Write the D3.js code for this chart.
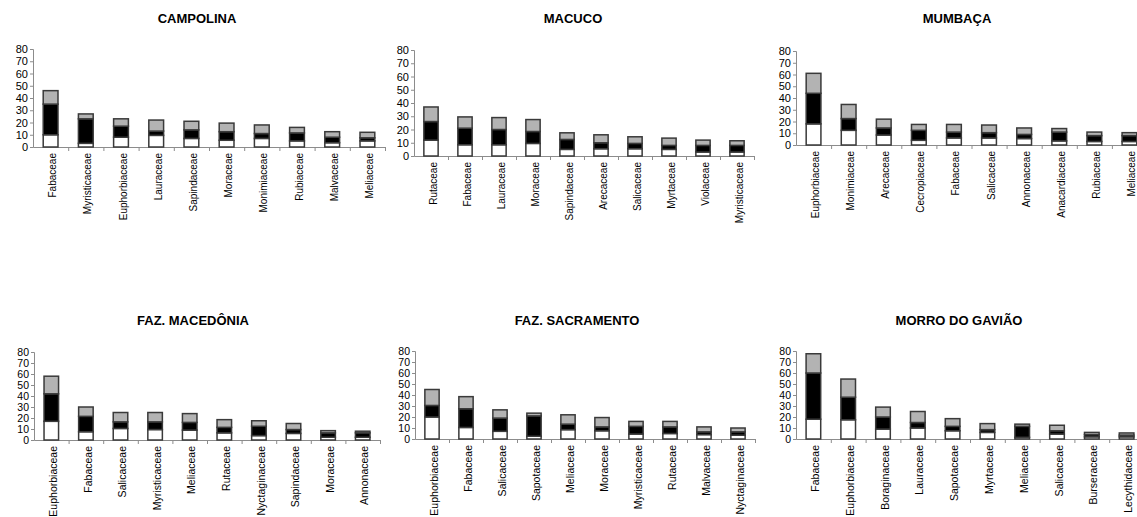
<!DOCTYPE html>
<html>
<head>
<meta charset="utf-8">
<script src="https://cdn.jsdelivr.net/npm/d3@7"></script>
<style>
  body { margin: 0; background: #fff; }
  svg { display: block; }
</style>
</head>
<body>
<svg id="chart" width="1137" height="517"></svg>
<script>
// ---- data -------------------------------------------------------------
const yTicks = [0, 10, 20, 30, 40, 50, 60, 70, 80];

const titles = ["CAMPOLINA", "MACUCO", "MUMBAÇA", "FAZ. MACEDÔNIA", "FAZ. SACRAMENTO", "MORRO DO GAVIÃO"];

const campolinaFamilies = ["Fabaceae", "Myristicaceae", "Euphorbiaceae", "Lauraceae", "Sapindaceae", "Moraceae", "Monimiaceae", "Rubiaceae", "Malvaceae", "Meliaceae"];
const campolinaBase   = [10, 3, 8, 9.5, 7, 5.5, 7, 5, 3.5, 5];
const campolinaMiddle = [25, 20, 9, 3.5, 7, 7, 4, 6.5, 4.5, 2.5];
const campolinaTop    = [11, 4, 6, 9, 7, 7, 7, 4.5, 4.5, 4.5];

const macucoFamilies = ["Rutaceae", "Fabaceae", "Lauraceae", "Moraceae", "Sapindaceae", "Arecaceae", "Salicaceae", "Myrtaceae", "Violaceae", "Myristicaceae"];
const macucoBase   = [12, 8.5, 8.5, 9.5, 5, 5.5, 5.5, 5, 3, 3];
const macucoMiddle = [14, 12.5, 11.5, 9, 7.5, 4.5, 4, 3, 5, 5];
const macucoTop    = [11, 8.5, 9, 9, 5, 6, 5, 5.5, 4, 3.5];

const mumbacaFamilies = ["Euphorbiaceae", "Monimiaceae", "Arecaceae", "Cecropiaceae", "Fabaceae", "Salicaceae", "Annonaceae", "Anacardiaceae", "Rubiaceae", "Meliaceae"];
const mumbacaBase   = [18, 12.5, 8.5, 4, 6, 6, 5.5, 3.5, 3, 3];
const mumbacaMiddle = [26, 10, 6, 8.5, 5, 4.5, 3.5, 7.5, 5, 5];
const mumbacaTop    = [17, 12, 7.5, 5, 6.5, 6.5, 5.5, 3, 3, 2.5];

const macedoniaFamilies = ["Euphorbiaceae", "Fabaceae", "Salicaceae", "Myristicaceae", "Meliaceae", "Rutaceae", "Nyctaginaceae", "Sapindaceae", "Moraceae", "Annonaceae"];
const macedoniaBase   = [17, 7.5, 10.5, 9.5, 9, 6.5, 4, 6, 2.5, 2.5];
const macedoniaMiddle = [25, 14, 6, 7, 7, 5, 8.5, 3.5, 4, 4];
const macedoniaTop    = [16, 8.5, 8.5, 8.5, 8, 7, 5, 5.5, 2, 1.5];

const sacramentoFamilies = ["Euphorbiaceae", "Fabaceae", "Salicaceae", "Sapotaceae", "Meliaceae", "Moraceae", "Myristicaceae", "Rutaceae", "Malvaceae", "Nyctaginaceae"];
const sacramentoBase   = [20, 10.5, 7, 2.5, 8.5, 7.5, 4.5, 5, 4, 3.5];
const sacramentoMiddle = [10.5, 17, 12, 18.5, 5, 3.5, 7, 6, 2.5, 3];
const sacramentoTop    = [14.5, 11, 7.5, 2.5, 8.5, 8.5, 4.5, 5, 4.5, 3.5];

const gaviaoFamilies = ["Fabaceae", "Euphorbiaceae", "Boraginaceae", "Lauraceae", "Sapotaceae", "Myrtaceae", "Meliaceae", "Salicaceae", "Burseraceae", "Lecythidaceae"];
const gaviaoBase   = [18, 17.5, 9, 10, 7.5, 6, 1.5, 4.5, 2, 2];
const gaviaoMiddle = [42, 20.5, 11, 5, 4, 2.5, 10, 3, 2, 1.5];
const gaviaoTop    = [17.5, 16.5, 9, 10, 7, 5.5, 2, 5, 2, 2];

// ---- panel frames (plot area in page pixels) ---------------------------
const frames = [
  { left: 33,  right: 385,  top: 49,  bottom: 147, titleX: 197, titleY: 23,  tickFont: 11, catFont: 10 },
  { left: 414, right: 754,  top: 50,  bottom: 156, titleX: 573, titleY: 23,  tickFont: 11, catFont: 10 },
  { left: 796, right: 1147, top: 51,  bottom: 145, titleX: 957, titleY: 23,  tickFont: 11, catFont: 10 },
  { left: 34,  right: 380,  top: 352, bottom: 440, titleX: 193, titleY: 325, tickFont: 10.5, catFont: 10.5 },
  { left: 415, right: 755,  top: 351, bottom: 439, titleX: 577, titleY: 325, tickFont: 10.5, catFont: 10.5 },
  { left: 796, right: 1144, top: 351, bottom: 439, titleX: 959, titleY: 325, tickFont: 10.5, catFont: 10.5 }
];

const panels = [
  [campolinaFamilies, campolinaBase, campolinaMiddle, campolinaTop],
  [macucoFamilies, macucoBase, macucoMiddle, macucoTop],
  [mumbacaFamilies, mumbacaBase, mumbacaMiddle, mumbacaTop],
  [macedoniaFamilies, macedoniaBase, macedoniaMiddle, macedoniaTop],
  [sacramentoFamilies, sacramentoBase, sacramentoMiddle, sacramentoTop],
  [gaviaoFamilies, gaviaoBase, gaviaoMiddle, gaviaoTop]
];

const segmentKeys = ["base", "middle", "top"];
const segmentFill = { base: "#ffffff", middle: "#000000", top: "#b3b3b3" };
const FONT = "'Liberation Sans', Arial, sans-serif";

const svg = d3.select("#chart");

panels.forEach(([families, base, middle, top], i) => {
  const f = frames[i];
  const g = svg.append("g");

  const rows = families.map((name, k) => ({ name, base: base[k], middle: middle[k], top: top[k] }));
  const series = d3.stack().keys(segmentKeys)(rows);

  const x = d3.scaleBand()
    .domain(families)
    .range([f.left, f.right])
    .paddingInner(0.58)
    .paddingOuter(0.29);

  const y = d3.scaleLinear().domain([0, 80]).range([f.bottom, f.top]);

  // title
  g.append("text")
    .attr("x", f.titleX)
    .attr("y", f.titleY)
    .attr("text-anchor", "middle")
    .attr("font-family", FONT)
    .attr("font-weight", "bold")
    .attr("font-size", 13)
    .attr("fill", "#000")
    .text(titles[i]);

  // y axis
  const yAxis = g.append("g")
    .attr("transform", `translate(${f.left},0)`)
    .call(d3.axisLeft(y).tickValues(yTicks).tickSize(3).tickPadding(2));
  yAxis.select(".domain").attr("stroke", "#8c8c8c");
  yAxis.selectAll(".tick line").attr("stroke", "#8c8c8c");
  yAxis.selectAll(".tick text")
    .attr("font-family", FONT)
    .attr("font-size", f.tickFont)
    .attr("fill", "#000");

  // x axis: baseline with ticks at category boundaries
  const idx = d3.scaleLinear().domain([0, families.length]).range([f.left, f.right]);
  const xAxis = g.append("g")
    .attr("transform", `translate(0,${f.bottom})`)
    .call(d3.axisBottom(idx).tickValues(d3.range(1, families.length + 1)).tickSize(4).tickSizeOuter(0).tickFormat(""));
  xAxis.select(".domain").attr("stroke", "#8c8c8c");
  xAxis.selectAll(".tick line").attr("stroke", "#8c8c8c");

  // stacked bars
  g.selectAll("g.layer")
    .data(series)
    .join("g")
    .attr("class", "layer")
    .attr("fill", d => segmentFill[d.key])
    .selectAll("rect")
    .data(d => d)
    .join("rect")
    .attr("x", d => x(d.data.name))
    .attr("y", d => y(d[1]))
    .attr("width", x.bandwidth())
    .attr("height", d => y(d[0]) - y(d[1]))
    .attr("stroke", "#3a3a3a")
    .attr("stroke-width", 1.5);

  // rotated category labels
  g.selectAll("text.cat")
    .data(families)
    .join("text")
    .attr("class", "cat")
    .attr("transform", d => `translate(${x(d) + x.bandwidth() / 2 + 2},${f.bottom + 6}) rotate(-90)`)
    .attr("dy", "0.35em")
    .attr("text-anchor", "end")
    .attr("font-family", FONT)
    .attr("font-size", f.catFont)
    .attr("fill", "#000")
    .text(d => d);
});
</script>
</body>
</html>
